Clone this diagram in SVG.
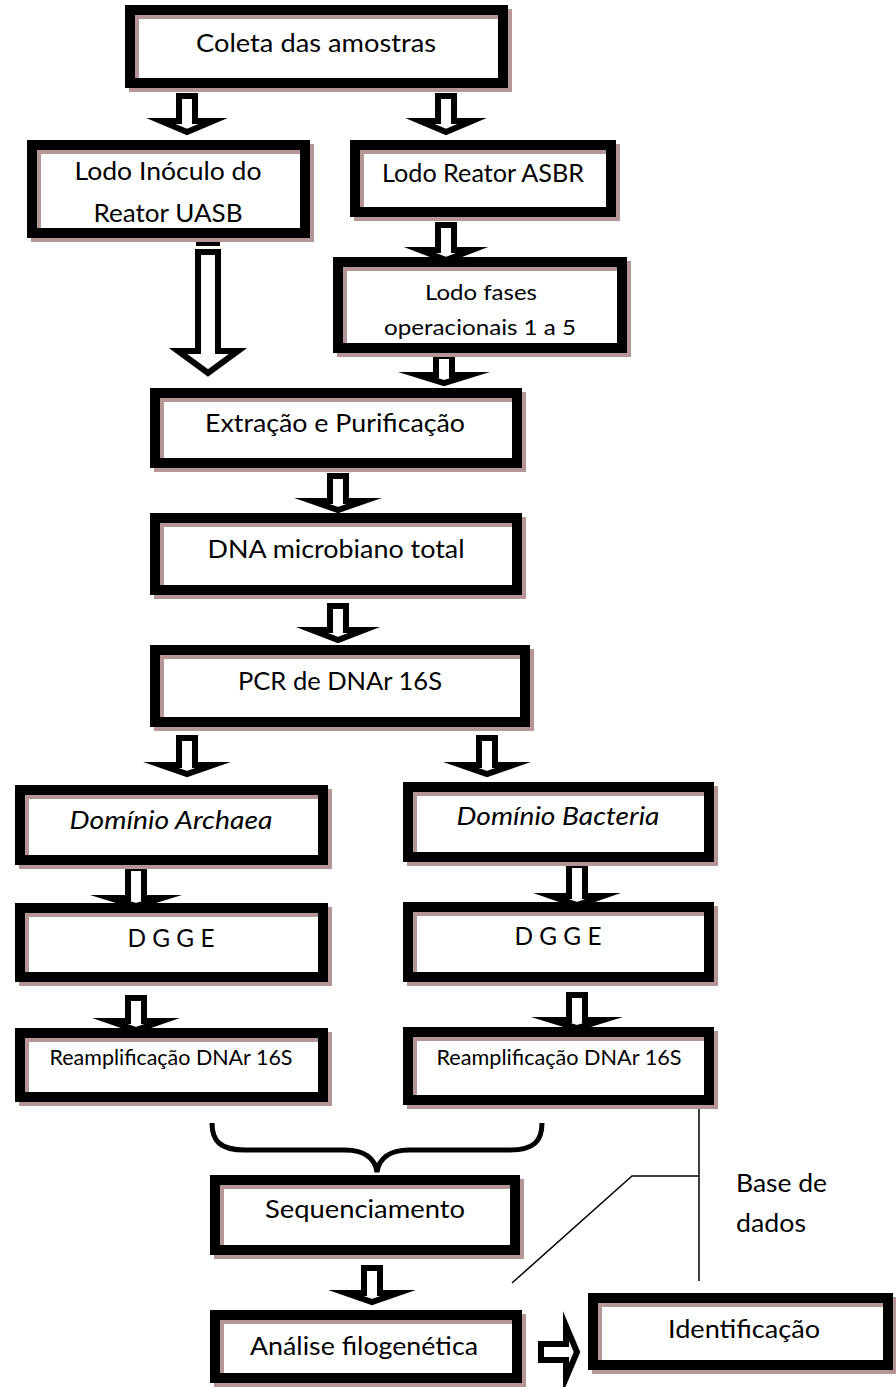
<svg xmlns="http://www.w3.org/2000/svg" width="896" height="1387" viewBox="0 0 896 1387">
<style>
.bg{fill:#fff;stroke:none}
.sh{fill:none;stroke:#b59595;stroke-width:10}
.bd{fill:none;stroke:#000;stroke-width:10}
.t{font-family:Lato,"Liberation Sans",sans-serif;font-size:25px;fill:#000;text-anchor:middle}
.s{font-size:21px}
.i{font-style:italic}
.ar{fill:#fff;stroke:#000;stroke-width:6;stroke-linejoin:miter;stroke-miterlimit:10}
.ln{fill:none;stroke:#000;stroke-width:1.5}
</style>
<g id="connectors">
<path class="ar" d="M179 96H195V121H213L187 132L161 121H179Z"/>
<path class="ar" d="M438 96H454V121H472L446 132L420 121H438Z"/>
<rect x="196" y="236" width="24" height="10" fill="#000"/>
<path class="ar" d="M198 252H218V351H238L208 373L178 351H198Z"/>
<path class="ar" d="M438 225H454V250H472L446 260L420 250H438Z"/>
<path class="ar" d="M436 356H452V375H470L444 383L418 375H436Z"/>
<path class="ar" d="M330 476H346V501H364L338 510L312 501H330Z"/>
<path class="ar" d="M330 606H346V630H364L338 640L312 630H330Z"/>
<path class="ar" d="M179 738H195V765H213L187 774L161 765H179Z"/>
<path class="ar" d="M479 738H495V765H513L487 774L461 765H479Z"/>
<path class="ar" d="M128 868H144V898H162L136 906L110 898H128Z"/>
<path class="ar" d="M128 998H144V1021H162L136 1030L110 1021H128Z"/>
<path class="ar" d="M569 865H585V896H603L577 905L551 896H569Z"/>
<path class="ar" d="M569 995H585V1020H603L577 1028L551 1020H569Z"/>
<path class="ar" d="M364 1268H380V1293H398L372 1302L346 1293H364Z"/>
<path class="ar" d="M541 1344H566V1326L577 1352L566 1378V1360H541Z"/>
<path d="M212 1123C212 1141 220 1150 245 1150H345C365 1150 375 1159 377 1172C379 1159 389 1150 409 1150H510C534 1150 542 1141 542 1123" fill="none" stroke="#000" stroke-width="5"/>
<polyline class="ln" points="512,1283 632,1176 699,1176"/>
<line class="ln" x1="699" y1="1109" x2="699" y2="1281"/>
</g>
<g id="n1"><rect class="bg" x="130" y="10" width="373" height="73"/><rect class="sh" x="134" y="14" width="373" height="73"/><rect class="bd" x="130" y="10" width="373" height="73"/><text class="t" x="316" y="52" textLength="240" lengthAdjust="spacingAndGlyphs">Coleta das amostras</text></g>
<g id="n2"><rect class="bg" x="32" y="145" width="273" height="88"/><rect class="sh" x="36" y="149" width="273" height="88"/><rect class="bd" x="32" y="145" width="273" height="88"/><text class="t" x="168" y="180" textLength="187" lengthAdjust="spacingAndGlyphs">Lodo Inóculo do</text><text class="t" x="168" y="222" textLength="149" lengthAdjust="spacingAndGlyphs">Reator UASB</text></g>
<g id="n3"><rect class="bg" x="355" y="145" width="256" height="67"/><rect class="sh" x="359" y="149" width="256" height="67"/><rect class="bd" x="355" y="145" width="256" height="67"/><text class="t" x="483" y="182" textLength="202" lengthAdjust="spacingAndGlyphs">Lodo Reator ASBR</text></g>
<g id="n4"><rect class="bg" x="338" y="262" width="284" height="86"/><rect class="sh" x="342" y="266" width="284" height="86"/><rect class="bd" x="338" y="262" width="284" height="86"/><text class="t s" x="481" y="300" textLength="112" lengthAdjust="spacingAndGlyphs">Lodo fases</text><text class="t s" x="480" y="335" textLength="192" lengthAdjust="spacingAndGlyphs">operacionais 1 a 5</text></g>
<g id="n5"><rect class="bg" x="155" y="393" width="362" height="70"/><rect class="sh" x="159" y="397" width="362" height="70"/><rect class="bd" x="155" y="393" width="362" height="70"/><text class="t" x="335" y="432" textLength="260" lengthAdjust="spacingAndGlyphs">Extração e Purificação</text></g>
<g id="n6"><rect class="bg" x="155" y="518" width="362" height="72"/><rect class="sh" x="159" y="522" width="362" height="72"/><rect class="bd" x="155" y="518" width="362" height="72"/><text class="t" x="336" y="558" textLength="257" lengthAdjust="spacingAndGlyphs">DNA microbiano total</text></g>
<g id="n7"><rect class="bg" x="155" y="650" width="370" height="72"/><rect class="sh" x="159" y="654" width="370" height="72"/><rect class="bd" x="155" y="650" width="370" height="72"/><text class="t" x="340" y="690" textLength="204" lengthAdjust="spacingAndGlyphs">PCR de DNAr 16S</text></g>
<g id="n8"><rect class="bg" x="20" y="790" width="303" height="70"/><rect class="sh" x="24" y="794" width="303" height="70"/><rect class="bd" x="20" y="790" width="303" height="70"/><text class="t i" x="171" y="829" textLength="203" lengthAdjust="spacingAndGlyphs">Domínio Archaea</text></g>
<g id="n9"><rect class="bg" x="408" y="787" width="301" height="70"/><rect class="sh" x="412" y="791" width="301" height="70"/><rect class="bd" x="408" y="787" width="301" height="70"/><text class="t i" x="558" y="825" textLength="203" lengthAdjust="spacingAndGlyphs">Domínio Bacteria</text></g>
<g id="n10"><rect class="bg" x="20" y="908" width="303" height="69"/><rect class="sh" x="24" y="912" width="303" height="69"/><rect class="bd" x="20" y="908" width="303" height="69"/><text class="t" x="171" y="947" textLength="87" lengthAdjust="spacingAndGlyphs">D G G E</text></g>
<g id="n11"><rect class="bg" x="408" y="907" width="301" height="70"/><rect class="sh" x="412" y="911" width="301" height="70"/><rect class="bd" x="408" y="907" width="301" height="70"/><text class="t" x="558" y="945" textLength="87" lengthAdjust="spacingAndGlyphs">D G G E</text></g>
<g id="n12"><rect class="bg" x="20" y="1033" width="303" height="64"/><rect class="sh" x="24" y="1037" width="303" height="64"/><rect class="bd" x="20" y="1033" width="303" height="64"/><text class="t s" x="171" y="1065" textLength="243" lengthAdjust="spacingAndGlyphs">Reamplificação DNAr 16S</text></g>
<g id="n13"><rect class="bg" x="408" y="1032" width="301" height="68"/><rect class="sh" x="412" y="1036" width="301" height="68"/><rect class="bd" x="408" y="1032" width="301" height="68"/><text class="t s" x="559" y="1065" textLength="245" lengthAdjust="spacingAndGlyphs">Reamplificação DNAr 16S</text></g>
<g id="n14"><rect class="bg" x="215" y="1180" width="300" height="70"/><rect class="sh" x="219" y="1184" width="300" height="70"/><rect class="bd" x="215" y="1180" width="300" height="70"/><text class="t" x="365" y="1218" textLength="200" lengthAdjust="spacingAndGlyphs">Sequenciamento</text></g>
<g id="n15"><rect class="bg" x="215" y="1315" width="302" height="63"/><rect class="sh" x="219" y="1319" width="302" height="63"/><rect class="bd" x="215" y="1315" width="302" height="63"/><text class="t" x="364" y="1355" textLength="228" lengthAdjust="spacingAndGlyphs">Análise filogenética</text></g>
<g id="n16"><rect class="bg" x="593" y="1298" width="295" height="67"/><rect class="sh" x="597" y="1302" width="295" height="67"/><rect class="bd" x="593" y="1298" width="295" height="67"/><text class="t" x="744" y="1338" textLength="152" lengthAdjust="spacingAndGlyphs">Identificação</text></g>
<g id="n17"><text class="t" x="736" y="1192" style="text-anchor:start" textLength="91" lengthAdjust="spacingAndGlyphs">Base de</text><text class="t" x="736" y="1232" style="text-anchor:start" textLength="70" lengthAdjust="spacingAndGlyphs">dados</text></g>
</svg>
